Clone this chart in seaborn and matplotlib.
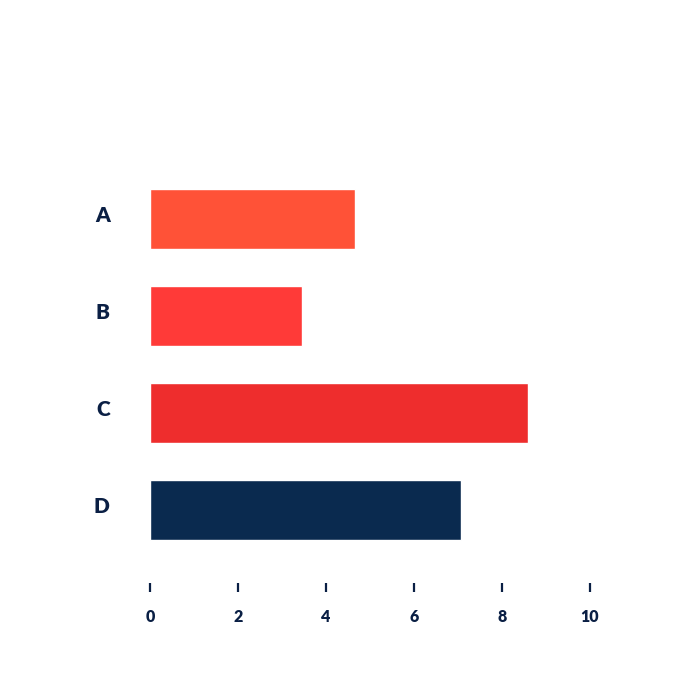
import matplotlib
matplotlib.use('Agg')
import matplotlib.pyplot as plt
import matplotlib.transforms as mtransforms
import seaborn as sns
import pandas as pd

categories = ['A', 'B', 'C', 'D']
values = [4.67, 3.45, 8.59, 7.06]
bar_colors = ['#FF5237', '#FF3A38', '#EE2D2D', '#0A2A4F']
x_ticks = [0, 2, 4, 6, 8, 10]

df = pd.DataFrame({'cat': categories, 'val': values})

sns.set_style('white')
plt.rcParams['font.family'] = ['Lato', 'DejaVu Sans']
navy = '#0A1F44'

fig = plt.figure(figsize=(7, 7), dpi=100)
ax = fig.add_axes([150 / 700, 1 - 583 / 700, 440 / 700, 433 / 700])

sns.barplot(data=df, x='val', y='cat', hue='cat', palette=bar_colors,
            width=0.61, orient='h', legend=False, ax=ax, saturation=1)

ax.set_xlim(0, 10)
ax.set_ylim(3.753, -0.711)
ax.set_xticks(x_ticks)
ax.set_xticklabels([str(t) for t in x_ticks], fontsize=11.5, fontweight='heavy', color=navy)
ax.set_yticklabels(categories, fontsize=15, fontweight='heavy', color=navy)
ax.tick_params(axis='x', direction='out', length=6.5, width=1.6, color=navy, pad=12.5, bottom=True)
ax.tick_params(axis='y', length=0, pad=29)
ax.set_xlabel('')
ax.set_ylabel('')
for s in ax.spines.values():
    s.set_visible(False)

# category labels sit a little above the bar centres in the original
shift = mtransforms.ScaledTranslation(0, 5 / 100, fig.dpi_scale_trans)
for lbl in ax.get_yticklabels():
    lbl.set_transform(lbl.get_transform() + shift)

plt.savefig('out.png', dpi=100)
